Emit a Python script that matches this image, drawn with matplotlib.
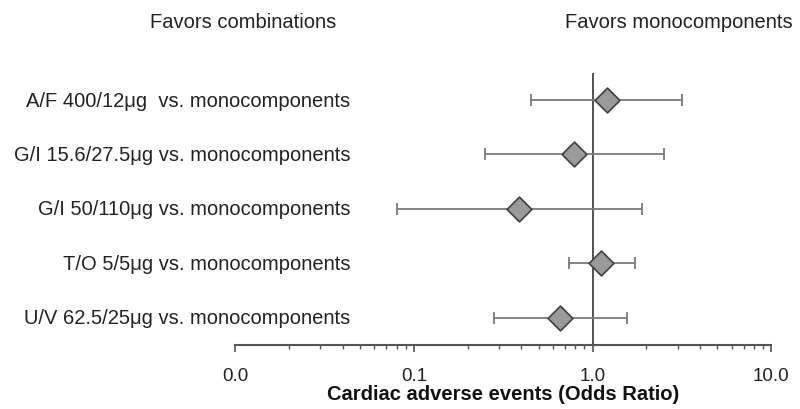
import matplotlib.pyplot as plt
from matplotlib.ticker import FixedLocator, FixedFormatter, LogLocator, NullFormatter

plt.rcParams['font.family'] = ['Liberation Sans', 'DejaVu Sans']

comparisons = ["A/F 400/12\u03bcg  vs. monocomponents",
               "G/I 15.6/27.5\u03bcg vs. monocomponents",
               "G/I 50/110\u03bcg vs. monocomponents",
               "T/O 5/5\u03bcg vs. monocomponents",
               "U/V 62.5/25\u03bcg vs. monocomponents"]
odds_ratio = [1.20, 0.79, 0.39, 1.12, 0.66]
ci_low = [0.45, 0.25, 0.08, 0.74, 0.28]
ci_high = [3.15, 2.50, 1.88, 1.72, 1.55]
tick_vals = [0.01, 0.1, 1.0, 10.0]
tick_text = ["0.0", "0.1", "1.0", "10.0"]

fig = plt.figure(figsize=(8, 4.1), dpi=100)
ax = fig.add_axes([0.294, 0.156, 0.67, 0.664])

rows = list(range(1, len(comparisons) + 1))
for r, orv, lo, hi in zip(rows, odds_ratio, ci_low, ci_high):
    ax.errorbar(orv, r, xerr=[[orv - lo], [hi - orv]], fmt='none',
                ecolor='#7a7a7a', elinewidth=1.3, capsize=4, capthick=1.3, zorder=2)
ax.scatter(odds_ratio, rows, marker='D', s=160, color='#9a9a9a',
           edgecolor='#404040', linewidth=1.2, zorder=3)

ax.axvline(1.0, color='#333333', linewidth=1.2, zorder=1)

ax.set_xscale('log')
ax.set_xlim(0.01, 10)
ax.set_ylim(5.5, 0.5)

ax.xaxis.set_major_locator(FixedLocator(tick_vals))
ax.xaxis.set_major_formatter(FixedFormatter(tick_text))
ax.xaxis.set_minor_locator(LogLocator(base=10, subs=range(2, 10)))
ax.xaxis.set_minor_formatter(NullFormatter())
ax.tick_params(axis='x', which='major', length=5, width=1.2, color='#555555',
               labelsize=13.5, labelcolor='#222222', pad=11)
ax.tick_params(axis='x', which='minor', length=3, width=1, color='#555555')
ax.set_yticks([])

for s in ['left', 'right', 'top']:
    ax.spines[s].set_visible(False)
ax.spines['bottom'].set_color('#555555')
ax.spines['bottom'].set_linewidth(1.5)

for r, name in zip(rows, comparisons):
    ax.text(0.215, r, name, transform=ax.get_yaxis_transform(), ha='right',
            va='center', fontsize=14.5, color='#222222')

fig.text(0.304, 0.945, "Favors combinations", ha='center', va='center',
         fontsize=14.5, color='#222222')
fig.text(0.848, 0.945, "Favors monocomponents", ha='center', va='center',
         fontsize=14.5, color='#222222')

ax.set_xlabel("Cardiac adverse events (Odds Ratio)", fontsize=14.5,
              fontweight='bold', color='#111111', labelpad=0)

fig.savefig('out.png', dpi=100)
